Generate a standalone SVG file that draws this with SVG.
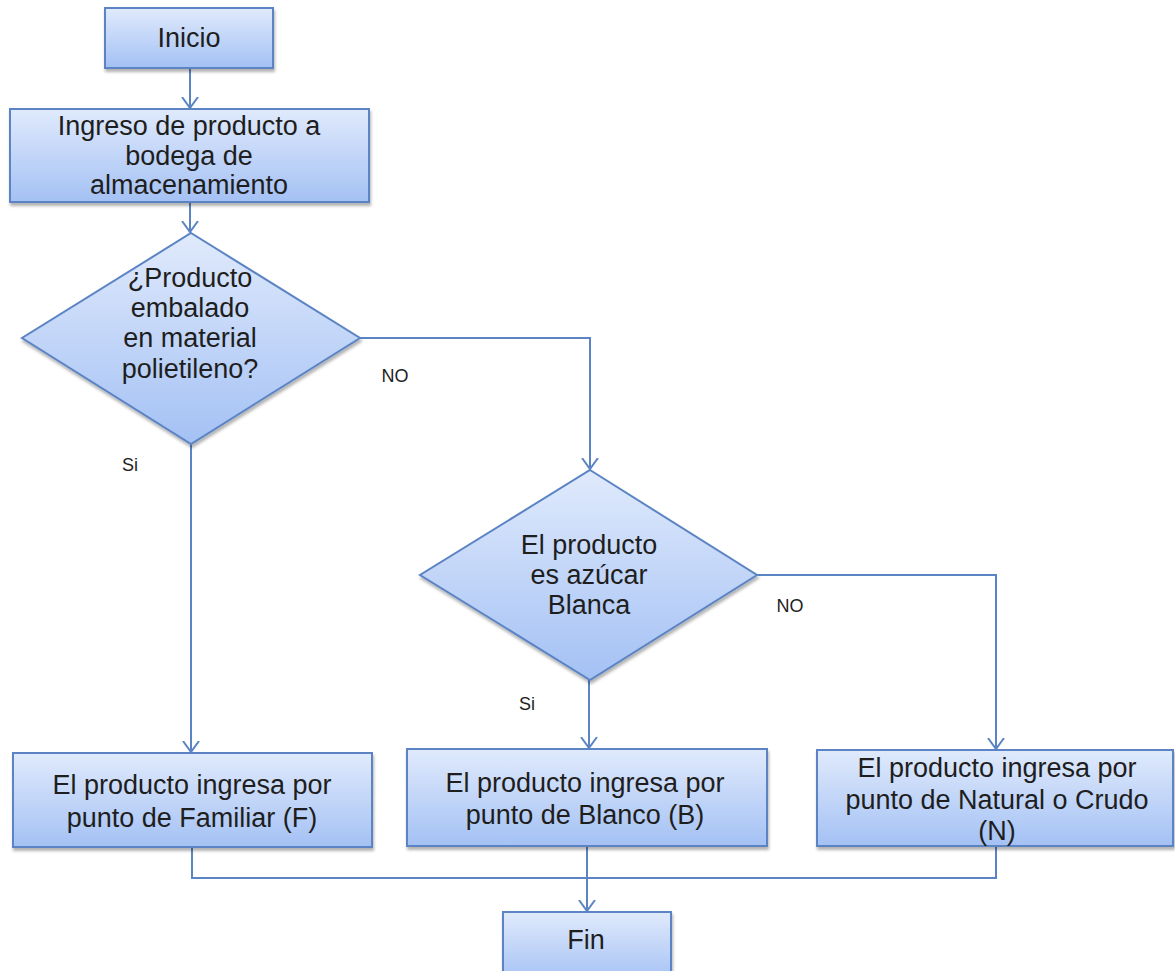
<svg xmlns="http://www.w3.org/2000/svg" width="1175" height="971" viewBox="0 0 1175 971">
<style>
.node{fill:url(#g);stroke:#5b84c4;stroke-width:2;filter:url(#sh)}
.t{font-family:"Liberation Sans",Arial,sans-serif;font-size:27px;fill:#1e1e1e;text-anchor:middle;dominant-baseline:central}
.lbl{font-family:"Liberation Sans",Arial,sans-serif;font-size:18px;fill:#1e1e1e;text-anchor:middle;dominant-baseline:central}
.c{fill:none;stroke:#5b84c4;stroke-width:2}
</style>
<defs>
<linearGradient id="g" x1="0" y1="0" x2="0" y2="1">
<stop offset="0" stop-color="#e0eafc"/>
<stop offset="1" stop-color="#a4c1f4"/>
</linearGradient>
<filter id="sh" x="-10%" y="-10%" width="120%" height="130%">
<feDropShadow dx="1" dy="3" stdDeviation="1.5" flood-color="#000" flood-opacity="0.3"/>
</filter>
<marker id="a" markerUnits="userSpaceOnUse" markerWidth="12" markerHeight="18" viewBox="0 0 12 18" refX="11" refY="9" orient="auto">
<path d="M0,1 L11,9 L0,17" fill="none" stroke="#5b84c4" stroke-width="2"/>
</marker>
</defs>
<g id="connectors">
<path class="c" d="M190,68 V108" marker-end="url(#a)"/>
<path class="c" d="M190,202 V232" marker-end="url(#a)"/>
<path class="c" d="M360,338 H590 V469" marker-end="url(#a)"/>
<path class="c" d="M191,444 V752" marker-end="url(#a)"/>
<path class="c" d="M589,680 V748" marker-end="url(#a)"/>
<path class="c" d="M757,575 H996 V749" marker-end="url(#a)"/>
<path class="c" d="M192,847 V878 H996 V846"/>
<path class="c" d="M587,846 V911" marker-end="url(#a)"/>
<text class="lbl" x="395" y="376">NO</text>
<text class="lbl" x="130" y="465">Si</text>
<text class="lbl" x="790" y="606">NO</text>
<text class="lbl" x="527" y="704">Si</text>
</g>
<g id="inicio">
<rect class="node" x="105" y="8" width="168" height="60"/>
<text class="t" x="189" y="38">Inicio</text>
</g>
<g id="ingreso">
<rect class="node" x="10" y="109" width="359" height="93"/>
<text class="t" x="189" y="126">Ingreso de producto a</text>
<text class="t" x="189" y="156">bodega de</text>
<text class="t" x="189" y="185">almacenamiento</text>
</g>
<g id="decision1">
<polygon class="node" points="191,233 360,338 191,444 22,338"/>
<text class="t" x="190" y="278">¿Producto</text>
<text class="t" x="190" y="308">embalado</text>
<text class="t" x="190" y="338">en material</text>
<text class="t" x="190" y="369">polietileno?</text>
</g>
<g id="decision2">
<polygon class="node" points="590,470 757,575 590,680 420,575"/>
<text class="t" x="589" y="545">El producto</text>
<text class="t" x="589" y="575">es azúcar</text>
<text class="t" x="589" y="605">Blanca</text>
</g>
<g id="familiar">
<rect class="node" x="13" y="753" width="359" height="94"/>
<text class="t" x="192" y="785">El producto ingresa por</text>
<text class="t" x="192" y="818">punto de Familiar (F)</text>
</g>
<g id="blanco">
<rect class="node" x="407" y="749" width="360" height="97"/>
<text class="t" x="585" y="783">El producto ingresa por</text>
<text class="t" x="585" y="815">punto de Blanco (B)</text>
</g>
<g id="natural">
<rect class="node" x="817" y="750" width="356" height="96"/>
<text class="t" x="997" y="768">El producto ingresa por</text>
<text class="t" x="997" y="800">punto de Natural o Crudo</text>
<text class="t" x="997" y="831">(N)</text>
</g>
<g id="fin">
<rect class="node" x="503" y="912" width="168" height="70"/>
<text class="t" x="586" y="940">Fin</text>
</g>
</svg>
